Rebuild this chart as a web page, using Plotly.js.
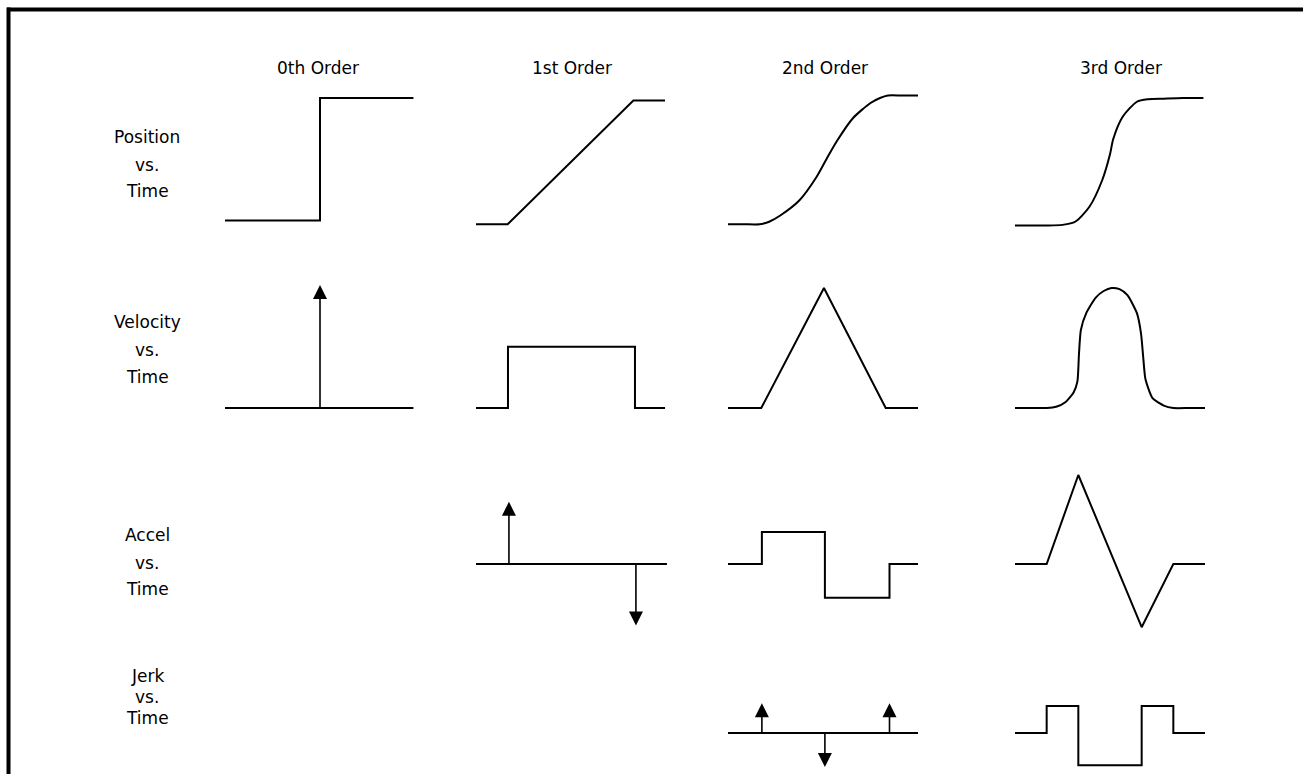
<!DOCTYPE html>
<html>
<head>
<meta charset="utf-8">
<script src="https://cdn.plot.ly/plotly-3.0.1.min.js"></script>
<style>html,body{margin:0;padding:0;background:#fff;}#chart{width:1303px;height:774px;}</style>
</head>
<body>
<div id="chart"></div>
<script>
// ---------- DATA (time in units 0..6 per panel, values in row units) ----------
const colTitles = ['0th Order', '1st Order', '2nd Order', '3rd Order'];
const rowNames = ['Position', 'Velocity', 'Accel', 'Jerk'];
const rowSub = ['vs.', 'Time'];

// Position vs. Time
const pos0_t = [0, 3, 3, 5.95];
const pos0_v = [0.02, 0.02, 1.0, 1.0];
const pos1_t = [0, 1.0, 4.97, 5.97];
const pos1_v = [-0.01, -0.01, 0.98, 0.98];
const pos2_t = [0, 0.5, 1.0, 1.3, 1.65, 2.25, 2.8, 3.15, 3.45, 3.95, 4.5, 4.8, 5.05, 5.5, 6.0];
const pos2_v = [-0.01, -0.01, -0.01, 0.01, 0.06, 0.18, 0.37, 0.53, 0.66, 0.84, 0.96, 1.0, 1.02, 1.02, 1.02];
const pos3_t = [0, 0.5, 1.0, 1.5, 1.9, 2.35, 2.75, 3.0, 3.1, 3.4, 3.85, 4.2, 4.7, 5.3, 5.95];
const pos3_v = [-0.02, -0.02, -0.02, -0.015, 0.01, 0.13, 0.34, 0.55, 0.67, 0.85, 0.97, 0.99, 0.995, 1.0, 1.0];

// Velocity vs. Time
const vel0_t = [0, 5.95];
const vel0_v = [0, 0];
const vel0_imp_t = [3.0];
const vel0_imp_v = [1.025];
const vel1_t = [0, 1.01, 1.01, 5.02, 5.02, 5.97];
const vel1_v = [0, 0, 0.51, 0.51, 0, 0];
const vel2_t = [0, 1.05, 3.03, 4.98, 6.0];
const vel2_v = [0, 0, 1.0, 0, 0];
const vel3_t = [0, 0.5, 1.0, 1.3, 1.6, 1.85, 1.97, 2.02, 2.08, 2.25, 2.55, 2.8, 3.05, 3.3, 3.55, 3.85, 3.98, 4.05, 4.12, 4.35, 4.7, 5.0, 5.5, 6.0];
const vel3_v = [0, 0, 0, 0.01, 0.05, 0.13, 0.22, 0.45, 0.65, 0.79, 0.92, 0.975, 1.0, 0.99, 0.94, 0.79, 0.62, 0.42, 0.24, 0.08, 0.02, 0, 0, 0];

// Accel vs. Time
const acc1_t = [0, 6.03];
const acc1_v = [0, 0];
const acc1_imp_t = [1.04, 5.05];
const acc1_imp_v = [0.70, -0.69];
const acc2_t = [0, 1.07, 1.07, 3.06, 3.06, 5.1, 5.1, 6.0];
const acc2_v = [0, 0, 0.36, 0.36, -0.38, -0.38, 0, 0];
const acc3_t = [0, 1.0, 2.0, 4.0, 5.0, 6.0];
const acc3_v = [0, 0, 1.0, -0.71, 0, 0];

// Jerk vs. Time
const jerk2_t = [0, 6.0];
const jerk2_v = [0, 0];
const jerk2_imp_t = [1.07, 3.06, 5.1];
const jerk2_imp_v = [1.1, -1.26, 1.1];
const jerk3_t = [0, 1.0, 1.0, 2.0, 2.0, 4.0, 4.0, 5.0, 5.0, 6.0];
const jerk3_v = [0, 0, 1.0, 1.0, -1.19, -1.19, 1.0, 1.0, 0, 0];

// ---------- LAYOUT GEOMETRY ----------
const W = 1303, H = 774;
const colStartPx = [225, 476, 728, 1015];
const colWidthPx = 190;           // 6 time units
const rowGeom = [                 // zero line px, px per unit, band top px, band bottom px
  {zero: 223, unit: 125, top: 80, bot: 240},
  {zero: 408, unit: 120, top: 268, bot: 422},
  {zero: 564, unit: 89, top: 460, bot: 640},
  {zero: 733, unit: 27, top: 688, bot: 773}
];
const rowLabelY = [[137, 165, 191], [322, 350, 377], [535, 563, 589], [676, 697, 718]];
const labelX = 147;
const titleY = 68;
const titleX = [318, 572, 825, 1121];

const layout = {
  width: W, height: H,
  margin: {l: 0, r: 0, t: 0, b: 0},
  paper_bgcolor: '#fff', plot_bgcolor: 'rgba(0,0,0,0)',
  showlegend: false,
  annotations: [],
  shapes: [
    {type: 'line', xref: 'paper', yref: 'paper', x0: 7 / W, x1: 1.02, y0: 1 - 9.5 / H, y1: 1 - 9.5 / H,
     line: {color: '#000', width: 4}},
    {type: 'line', xref: 'paper', yref: 'paper', x0: 8.5 / W, x1: 8.5 / W, y0: 1 - 7.5 / H, y1: -0.02,
     line: {color: '#000', width: 4}}
  ]
};

const pad = 0.6;
colStartPx.forEach((s, i) => {
  const pxPerUnit = colWidthPx / 6;
  const key = 'xaxis' + (i === 0 ? '' : i + 1);
  layout[key] = {
    domain: [(s - pad * pxPerUnit) / W, (s + colWidthPx + pad * pxPerUnit) / W],
    range: [-pad, 6 + pad], visible: false, fixedrange: true, anchor: 'y'
  };
});
rowGeom.forEach((g, j) => {
  const key = 'yaxis' + (j === 0 ? '' : j + 1);
  layout[key] = {
    domain: [1 - g.bot / H, 1 - g.top / H],
    range: [(g.zero - g.bot) / g.unit, (g.zero - g.top) / g.unit],
    visible: false, fixedrange: true, anchor: 'x'
  };
});

const axId = (prefix, i) => prefix + (i === 0 ? '' : i + 1);
const lineStyle = {color: '#000', width: 2};
const traces = [];
function addLine(col, row, t, v, smooth) {
  traces.push({
    type: 'scatter', mode: 'lines', x: t, y: v,
    xaxis: axId('x', col), yaxis: axId('y', row),
    line: smooth ? Object.assign({shape: 'spline', smoothing: smooth}, lineStyle) : lineStyle,
    hoverinfo: 'skip', cliponaxis: false
  });
}
function addImpulses(col, row, t, v) {
  t.forEach((tt, k) => {
    layout.annotations.push({
      xref: axId('x', col), yref: axId('y', row),
      axref: axId('x', col), ayref: axId('y', row),
      x: tt, y: v[k], ax: tt, ay: 0,
      text: '', font: {size: 1}, borderpad: 0,
      showarrow: true, arrowhead: 2, arrowsize: 1.75, arrowwidth: 1.6, arrowcolor: '#000'
    });
  });
}

addLine(0, 0, pos0_t, pos0_v);
addLine(1, 0, pos1_t, pos1_v);
addLine(2, 0, pos2_t, pos2_v, 0.7);
addLine(3, 0, pos3_t, pos3_v, 0.7);
addLine(0, 1, vel0_t, vel0_v);
addImpulses(0, 1, vel0_imp_t, vel0_imp_v);
addLine(1, 1, vel1_t, vel1_v);
addLine(2, 1, vel2_t, vel2_v);
addLine(3, 1, vel3_t, vel3_v, 0.6);
addLine(1, 2, acc1_t, acc1_v);
addImpulses(1, 2, acc1_imp_t, acc1_imp_v);
addLine(2, 2, acc2_t, acc2_v);
addLine(3, 2, acc3_t, acc3_v);
addLine(2, 3, jerk2_t, jerk2_v);
addImpulses(2, 3, jerk2_imp_t, jerk2_imp_v);
addLine(3, 3, jerk3_t, jerk3_v);

const textFont = {family: 'DejaVu Sans, Arial, sans-serif', size: 17, color: '#000'};
colTitles.forEach((c, i) => {
  layout.annotations.push({xref: 'paper', yref: 'paper', x: titleX[i] / W, y: 1 - titleY / H,
    xanchor: 'center', yanchor: 'middle', text: c, showarrow: false, font: textFont});
});
rowNames.forEach((r, j) => {
  [r].concat(rowSub).forEach((txt, k) => {
    layout.annotations.push({xref: 'paper', yref: 'paper', x: labelX / W, y: 1 - rowLabelY[j][k] / H,
      xanchor: 'center', yanchor: 'middle', text: txt, showarrow: false, font: textFont});
  });
});

Plotly.newPlot('chart', traces, layout, {displayModeBar: false, staticPlot: true});
</script>
</body>
</html>
